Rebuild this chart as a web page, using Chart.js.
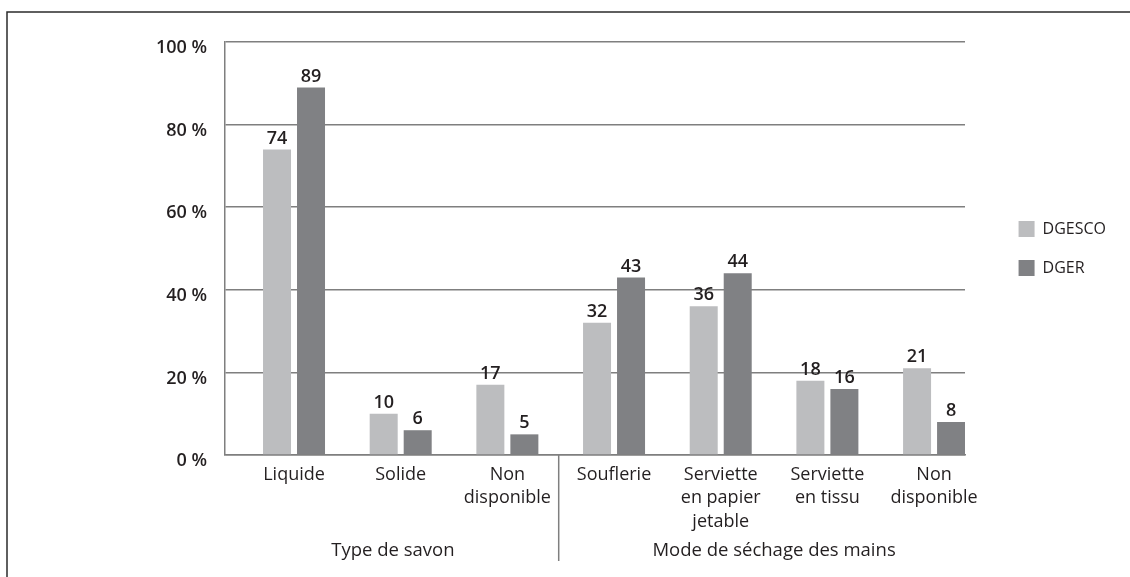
<!DOCTYPE html>
<html>
<head>
<meta charset="utf-8">
<title>Type de savon / Mode de séchage des mains</title>
<script src="https://cdn.jsdelivr.net/npm/chart.js@4.4.1/dist/chart.umd.min.js"></script>
<style>
    html, body { margin: 0; padding: 0; background: #fff; }
    #wrap { width: 1130px; height: 577px; }
</style>
</head>
<body>
<div id="wrap"><canvas id="chart" width="1130" height="577"></canvas></div>
<script>
// Data
var categories = [
    ['Liquide'],
    ['Solide'],
    ['Non', 'disponible'],
    ['Souflerie'],
    ['Serviette', 'en papier', 'jetable'],
    ['Serviette', 'en tissu'],
    ['Non', 'disponible']
];
var groupNames = ['Type de savon', 'Mode de séchage des mains'];
var groupSizes = [3, 4];
var seriesNames = ['DGESCO', 'DGER'];
var dgesco = [74, 10, 17, 32, 36, 18, 21];
var dger = [89, 6, 5, 43, 44, 16, 8];
var yTicks = [0, 20, 40, 60, 80, 100];

var TEXT = '#231f20';
var LINE = '#7f7f7f';
var FONT = '"Open Sans", "DejaVu Sans", sans-serif';
var PLOT_RIGHT = 965;     // where the grid lines stop
var PAD_RIGHT = 14;
var LEGEND_PAD = 23;
var LEGEND_BOX = 16;
var LEGEND_FONT = 16;

function toPoints(values) {
    return values.map(function(v, i) { return { x: i, y: v }; });
}

// Frame, group separators and group captions under the axis
var decorPlugin = {
    id: 'decor',
    beforeDraw: function(chart) {
        var ctx = chart.ctx;
        ctx.save();
        ctx.strokeStyle = '#2b2b2b';
        ctx.lineWidth = 1.5;
        ctx.beginPath();
        ctx.moveTo(7, chart.height);
        ctx.lineTo(7, 12);
        ctx.lineTo(chart.width, 12);
        ctx.stroke();
        ctx.restore();
    },
    afterDraw: function(chart) {
        var ctx = chart.ctx;
        var xs = chart.scales.x;
        var area = chart.chartArea;
        var start = 0;
        var left = area.left;
        ctx.save();
        ctx.font = '18.5px ' + FONT;
        ctx.fillStyle = TEXT;
        ctx.textAlign = 'center';
        ctx.textBaseline = 'middle';
        for (var g = 0; g < groupNames.length; g++) {
            var end = start + groupSizes[g];
            var right = xs.getPixelForValue(end - 0.5);
            ctx.fillText(groupNames[g], (left + right) / 2, 551);
            if (g < groupNames.length - 1) {
                ctx.strokeStyle = LINE;
                ctx.lineWidth = 1.5;
                ctx.beginPath();
                ctx.moveTo(right - 2, area.bottom);
                ctx.lineTo(right - 2, 561);
                ctx.stroke();
            }
            left = right;
            start = end;
        }
        ctx.restore();
    }
};

// Value labels above each bar
var valuePlugin = {
    id: 'values',
    afterDatasetsDraw: function(chart) {
        var ctx = chart.ctx;
        ctx.save();
        ctx.font = '600 18px ' + FONT;
        ctx.fillStyle = TEXT;
        ctx.textAlign = 'center';
        ctx.textBaseline = 'bottom';
        chart.data.datasets.forEach(function(ds, di) {
            var meta = chart.getDatasetMeta(di);
            meta.data.forEach(function(bar, i) {
                ctx.fillText(String(ds.data[i].y), bar.x, bar.y - 2);
            });
        });
        ctx.restore();
    }
};

new Chart(document.getElementById('chart'), {
    type: 'bar',
    data: {
        datasets: [
            { label: seriesNames[0], data: toPoints(dgesco), backgroundColor: '#bcbdbf', borderWidth: 0 },
            { label: seriesNames[1], data: toPoints(dger), backgroundColor: '#808184', borderWidth: 0 }
        ]
    },
    options: {
        responsive: false,
        animation: false,
        categoryPercentage: 0.6375,
        barPercentage: 0.8235,
        layout: { padding: { top: 42, left: 0, right: PAD_RIGHT, bottom: 0 } },
        plugins: {
            tooltip: { enabled: false },
            legend: {
                position: 'right',
                fullSize: false,
                labels: {
                    boxWidth: LEGEND_BOX,
                    boxHeight: LEGEND_BOX,
                    padding: LEGEND_PAD,
                    color: TEXT,
                    font: { family: FONT, size: LEGEND_FONT }
                }
            }
        },
        scales: {
            x: {
                type: 'linear',
                min: -0.647,
                max: 6.29,
                offset: false,
                grid: { display: false, drawTicks: false },
                border: { display: true, color: LINE, width: 1.5 },
                ticks: {
                    stepSize: 1,
                    includeBounds: false,
                    autoSkip: false,
                    maxRotation: 0,
                    minRotation: 0,
                    padding: 8,
                    color: TEXT,
                    font: { family: FONT, size: 18, lineHeight: 1.3 },
                    callback: function(value) {
                        var i = Math.round(value);
                        if (Math.abs(value - i) < 1e-6 && categories[i]) return categories[i];
                        return '';
                    }
                },
                afterFit: function(scale) { scale.height = 122; }
            },
            y: {
                min: 0,
                max: 100,
                grid: { color: LINE, lineWidth: 1.5, drawTicks: false },
                border: { display: true, color: LINE, width: 1.5 },
                afterBuildTicks: function(scale) {
                    scale.ticks = yTicks.map(function(v) { return { value: v }; });
                },
                ticks: {
                    padding: 18,
                    labelOffset: 6,
                    color: TEXT,
                    font: { family: FONT, size: 18, weight: '600' },
                    callback: function(value) { return value + ' %'; }
                },
                afterFit: function(scale) { scale.width = 225; }
            },
            // empty spacer between the plot and the legend, sized so the plot ends at PLOT_RIGHT
            gap: {
                type: 'linear',
                position: 'right',
                display: true,
                grid: { display: false, drawTicks: false },
                border: { display: false },
                ticks: { display: false },
                afterFit: function(scale) {
                    var ctx = scale.ctx;
                    ctx.save();
                    ctx.font = LEGEND_FONT + 'px ' + FONT;
                    var tw = 0;
                    seriesNames.forEach(function(n) { tw = Math.max(tw, ctx.measureText(n).width); });
                    ctx.restore();
                    var legendWidth = LEGEND_PAD + LEGEND_BOX + LEGEND_FONT / 2 + tw + 10;
                    scale.width = Math.max(0, scale.chart.width - PAD_RIGHT - PLOT_RIGHT - legendWidth);
                }
            }
        }
    },
    plugins: [decorPlugin, valuePlugin]
});
</script>
</body>
</html>
